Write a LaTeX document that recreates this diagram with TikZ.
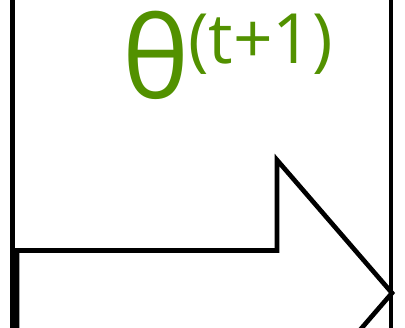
\documentclass[tikz,border=0pt]{standalone}
\usepackage{xcolor}
\usepackage{fontspec}
\setmainfont{Open Sans}
\definecolor{thetagreen}{RGB}{82,145,0}

\begin{document}
\begin{tikzpicture}[x=0.75pt,y=-0.75pt]

\useasboundingbox (0,0) rectangle (405,328);

\begin{scope}

\clip (0,0) rectangle (405,328);

\draw[line width=3.5pt] (12.8,-10) -- (12.8,340); % left side
\draw[line width=3.5pt] (391,-10) -- (391,340); % right side

% arrow
\draw[line width=3.5pt, line join=miter] (17,345) -- (17,250.5) -- (277,250.5) -- (277,160) -- (392,293) -- (277,426);

\end{scope}

\node[anchor=base west, inner sep=0pt, text=thetagreen] (theta) at (122,99) {\fontsize{85}{85}\selectfont θ};
\node[anchor=base west, inner sep=0pt, text=thetagreen] (sup) at (188,64) {\fontsize{52}{52}\selectfont (t+1)};

\end{tikzpicture}
\end{document}
